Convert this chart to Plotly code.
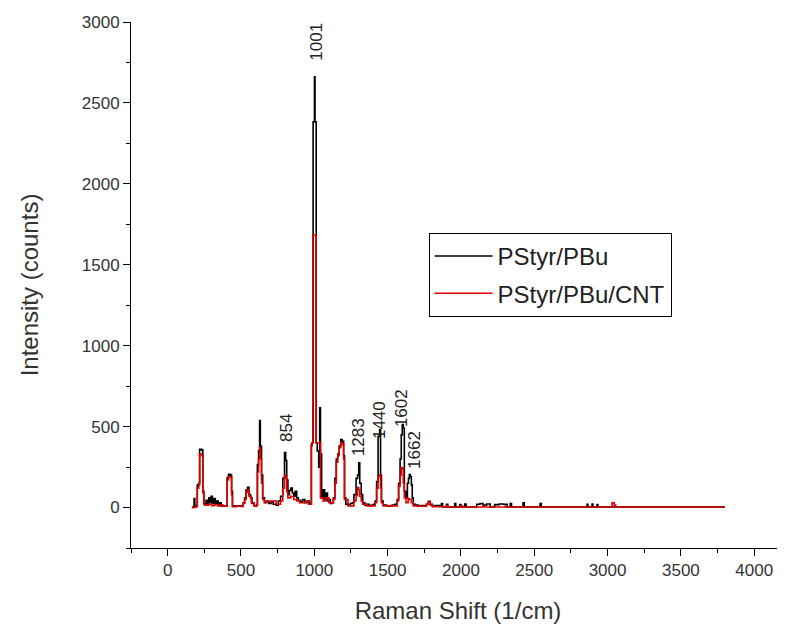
import plotly.graph_objects as go

# PStyr/PBu (black)
x_black = [165, 175, 180, 185, 195, 202, 212, 218, 232, 240, 247, 255, 262, 270, 280, 288, 296, 305, 315, 325,
           335, 345, 355, 365, 380, 395, 406, 415, 428, 436, 442, 460, 480, 500, 515, 525, 535, 545, 555, 565,
           575, 590, 605, 612, 620, 627, 632, 640, 648, 660, 675, 690, 705, 720, 740, 755, 770, 785, 797, 805,
           812, 820, 830, 840, 850, 860, 870, 880, 890, 905, 920, 935, 950, 965, 975, 980, 985, 992, 1001, 1005,
           1013, 1020, 1030, 1037, 1042, 1050, 1060, 1070, 1080, 1090, 1100, 1110, 1120, 1130, 1140, 1150, 1160, 1170, 1180, 1190,
           1200, 1206, 1215, 1230, 1245, 1260, 1270, 1285, 1295, 1303, 1310, 1320, 1330, 1345, 1360, 1375, 1390, 1405, 1415, 1425,
           1435, 1446, 1452, 1458, 1470, 1490, 1510, 1530, 1550, 1565, 1575, 1585, 1593, 1600, 1607, 1614, 1625, 1635, 1642, 1648,
           1655, 1662, 1668, 1675, 1690, 1710, 1730, 1750, 1765, 1778, 1790, 1805, 1820, 1867, 1875, 1901, 1910, 1958, 1965, 1992,
           2000, 2026, 2035, 2108, 2130, 2150, 2175, 2200, 2230, 2260, 2290, 2315, 2336, 2345, 2424, 2432, 2540, 2548, 2860, 2866,
           2894, 2900, 2928, 2934, 3037, 3800]
y_black = [0, 5, 55, 5, 10, 140, 150, 360, 355, 100, 25, 15, 45, 20, 60, 30, 70, 25, 55, 20,
           40, 15, 30, 10, 8, 10, 185, 205, 200, 100, 10, 8, 10, 8, 30, 60, 110, 125, 80, 60,
           25, 10, 15, 265, 350, 537, 380, 200, 60, 30, 40, 25, 35, 20, 15, 40, 70, 180, 340, 290,
           170, 80, 105, 120, 90, 70, 100, 60, 45, 35, 50, 30, 40, 25, 20, 390, 400, 2383, 2661, 2383,
           400, 350, 250, 617, 330, 60, 110, 50, 90, 40, 50, 25, 30, 60, 180, 300, 330, 380, 420, 410,
           320, 60, 20, 15, 25, 30, 80, 180, 200, 276, 150, 80, 30, 15, 20, 10, 15, 20, 40, 160,
           440, 481, 200, 40, 15, 12, 10, 15, 20, 50, 150, 300, 450, 512, 490, 100, 60, 150, 180, 204,
           190, 140, 60, 20, 15, 10, 12, 10, 20, 39, 20, 8, 12, 25, 3, 20, 3, 25, 3, 18,
           3, 22, 3, 20, 25, 15, 22, 3, 18, 22, 20, 3, 25, 3, 30, 3, 25, 3, 20, 3,
           22, 3, 18, 3, 3, 3]

# PStyr/PBu/CNT (red)
x_red = [165, 190, 202, 212, 218, 232, 240, 247, 260, 280, 300, 320, 340, 360, 380, 406, 415, 428, 436, 442,
         470, 500, 515, 525, 535, 545, 555, 570, 590, 605, 612, 620, 627, 632, 640, 648, 660, 700, 740, 770,
         785, 797, 805, 812, 820, 840, 860, 880, 900, 930, 960, 975, 980, 985, 990, 1012, 1042, 1060, 1080, 1100,
         1130, 1140, 1150, 1160, 1170, 1180, 1190, 1200, 1206, 1230, 1270, 1285, 1295, 1303, 1310, 1320, 1330, 1360, 1415, 1425,
         1435, 1446, 1452, 1458, 1470, 1530, 1565, 1575, 1585, 1593, 1600, 1607, 1614, 1625, 1640, 1648, 1662, 1675, 1700, 1765,
         1778, 1790, 1805, 1900, 1910, 2000, 2010, 2150, 2160, 2300, 2310, 3030, 3045, 3055, 3800]
y_red = [0, 5, 120, 140, 330, 320, 90, 20, 15, 20, 12, 18, 10, 15, 8, 170, 190, 185, 80, 5,
         8, 6, 25, 50, 95, 110, 70, 30, 10, 12, 220, 300, 370, 300, 150, 50, 35, 40, 20, 40,
         120, 200, 180, 100, 60, 70, 50, 40, 30, 35, 20, 20, 380, 400, 1684, 400, 60, 40, 60, 30,
         50, 150, 280, 320, 370, 400, 390, 300, 50, 10, 40, 75, 123, 110, 70, 40, 20, 10, 30, 120,
         190, 200, 120, 30, 10, 10, 40, 130, 200, 247, 240, 150, 60, 30, 55, 50, 30, 10, 8, 20,
         35, 15, 5, 10, 3, 10, 3, 10, 3, 8, 3, 30, 15, 3, 3]

peak_labels = ["1001", "854", "1283", "1440", "1602", "1662"]
label_x = [1015, 810, 1301, 1444, 1594, 1682]
label_y = [2875, 494, 438, 543, 617, 358]

FONT = "Liberation Sans, Arial"

fig = go.Figure()
fig.add_trace(go.Scatter(x=x_black, y=y_black, mode="lines", name="PStyr/PBu", legendgroup="a",
                         line=dict(color="#000000", width=1.6, shape="hv")))
fig.add_trace(go.Scatter(x=x_red, y=y_red, mode="lines", name="PStyr/PBu/CNT", legendgroup="b",
                         line=dict(color="#e00000", width=1.6, shape="hv")))

for t, lx, ly in zip(peak_labels, label_x, label_y):
    fig.add_annotation(x=lx, y=ly, text=t, showarrow=False, textangle=-90,
                       font=dict(size=17, color="#222222", family=FONT))

fig.update_layout(
    width=777, height=624,
    margin=dict(l=123, r=0, t=14, b=84, autoexpand=False),
    paper_bgcolor="white", plot_bgcolor="white",
    font=dict(family=FONT, color="#333333"),
    showlegend=True,
    legend=dict(x=0.455, y=0.599, xanchor="left", yanchor="top",
                bordercolor="#000000", borderwidth=1, bgcolor="white",
                font=dict(size=24, color="#222222"), traceorder="grouped", tracegroupgap=3,
                itemwidth=58),
    xaxis=dict(range=[-250, 4210], tickvals=[0, 500, 1000, 1500, 2000, 2500, 3000, 3500, 4000],
               automargin=False,
               showgrid=False, zeroline=False, showline=True, linecolor="#000000", linewidth=1,
               ticks="outside", ticklen=7, tickcolor="#000000",
               minor=dict(dtick=250, tick0=0, ticks="outside", ticklen=4, tickcolor="#000000", showgrid=False),
               tickfont=dict(size=17, color="#333333"),
               title=dict(text="Raman Shift (1/cm)", font=dict(size=24, color="#333333"), standoff=22)),
    yaxis=dict(range=[-250, 3000], tickvals=[0, 500, 1000, 1500, 2000, 2500, 3000],
               automargin=False,
               showgrid=False, zeroline=False, showline=True, linecolor="#000000", linewidth=1,
               ticks="outside", ticklen=7, tickcolor="#000000",
               minor=dict(dtick=250, tick0=0, ticks="outside", ticklen=4, tickcolor="#000000", showgrid=False),
               tickfont=dict(size=17, color="#333333"),
               title=dict(text="Intensity (counts)", font=dict(size=24, color="#333333"), standoff=36)),
)

fig.write_html("out.html")
